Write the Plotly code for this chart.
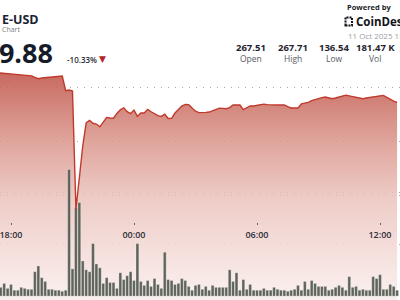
import pandas as pd
import plotly.graph_objects as go

# ---------------- data ----------------
times = pd.date_range("2025-10-10 17:20", periods=118, freq="10min")

price = [
    264.2,
    263.9, 263.6, 263.3, 263.0, 262.7, 262.3, 262.1, 261.8, 261.6, 261.3,
    259.9, 258.7, 259.3, 259.7, 260.1, 260.3, 260.3, 260.7, 261.1, 247.4,
    248.1, 247.2, 136.5, 165.9, 195.8, 217.3, 219.7, 217.0, 216.3, 213.7,
    218.4, 222.5, 222.0, 221.7, 226.2, 229.7, 231.4, 227.8, 226.1, 229.3,
    223.4, 226.6, 226.6, 230.0, 227.8, 225.9, 224.1, 223.4, 225.5, 221.5,
    221.6, 226.6, 229.8, 233.1, 234.6, 234.4, 231.2, 228.3, 227.0, 226.8,
    227.2, 227.5, 228.5, 229.8, 231.1, 230.9, 230.6, 231.7, 234.1, 234.1,
    234.1, 229.7, 231.1, 233.2, 233.2, 233.9, 234.7, 234.9, 234.4, 234.1,
    234.1, 234.1, 234.1, 234.1, 232.5, 231.3, 231.3, 231.3, 235.2, 235.7,
    236.6, 238.2, 239.3, 240.3, 241.0, 241.5, 240.7, 239.9, 240.6, 241.7,
    242.7, 243.3, 242.6, 242.0, 241.2, 240.4, 239.9, 240.6, 241.1, 241.7,
    242.3, 242.9, 243.1, 241.2, 239.3, 237.7, 236.6,
]

volume_k = [
    0.90,
    0.85, 1.23, 0.75, 1.13, 0.57, 0.57, 0.85, 0.75, 0.66, 0.66,
    2.36, 2.92, 1.79, 1.42, 0.66, 0.66, 0.57, 0.57, 0.47, 0.57,
    12.26, 2.64, 8.58, 9.06, 3.40, 2.55, 2.36, 5.09, 3.11, 2.74,
    1.23, 1.79, 1.32, 1.32, 0.75, 2.26, 1.60, 1.98, 2.36, 1.51,
    5.09, 1.42, 1.04, 1.51, 0.94, 1.70, 1.13, 0.75, 4.25, 1.60,
    1.51, 1.13, 1.23, 1.70, 1.51, 0.94, 0.57, 1.04, 1.13, 0.66,
    0.94, 0.57, 1.04, 0.85, 0.85, 0.85, 0.85, 2.55, 1.42, 2.26,
    0.57, 1.60, 0.66, 1.13, 0.57, 0.57, 0.57, 0.75, 0.57, 0.57,
    0.85, 0.66, 0.57, 0.57, 0.47, 0.57, 0.66, 1.04, 0.57, 1.42,
    0.66, 1.51, 1.23, 0.94, 0.94, 0.94, 0.57, 0.66, 0.85, 1.04,
    0.85, 0.57, 1.89, 0.85, 0.94, 0.57, 0.66, 0.57, 0.57, 1.89,
    1.70, 2.08, 0.66, 0.66, 1.13, 0.94, 0.57,
]

tick_times = ["2025-10-10 18:00", "2025-10-11 00:00", "2025-10-11 06:00", "2025-10-11 12:00"]
tick_labels = ["18:00", "00:00", "06:00", "12:00"]
price_grid = [150, 200, 250]
volume_grid = [5, 10]

stat_values = ["267.51", "267.71", "136.54", "181.47 K"]
stat_labels = ["Open", "High", "Low", "Vol"]
stat_x_px = [251, 293, 334, 375]

title_text = "E-USD"
subtitle_text = "Chart"
last_price = "239.88"
change_text = "-10.33%"
date_text = "11 Oct 2025 15:"

# ---------------- figure ----------------
W, H = 400, 300
x_range = [pd.Timestamp("2025-10-10 17:27:48"), pd.Timestamp("2025-10-11 12:58:32")]
price_range = [51.9, 332.2]
vol_range = [-0.377, 28.68]

LINE = "#c0392b"
FONT = "Open Sans"

fig = go.Figure()

# area fill (under bars)
fig.add_trace(go.Scatter(
    x=times, y=price, mode="none", fill="tozeroy",
    fillgradient=dict(
        type="vertical",
        start=price_range[0], stop=264.0,
        colorscale=[
            [0.0, "rgba(249,237,236,0.85)"],
            [0.13, "rgba(246,226,223,0.85)"],
            [0.44, "rgba(235,196,190,0.85)"],
            [0.70, "rgba(218,149,139,0.85)"],
            [1.0, "rgba(190,80,68,0.85)"],
        ],
    ),
    hoverinfo="skip", showlegend=False, yaxis="y",
))

# volume bars
fig.add_trace(go.Bar(
    x=times, y=volume_k, yaxis="y2",
    marker=dict(color="#5f645a", line=dict(color="rgba(255,255,255,0.55)", width=0.5)),
    showlegend=False,
))

# price line on top
fig.add_trace(go.Scatter(
    x=times, y=price, mode="lines", yaxis="y3",
    line=dict(color=LINE, width=1.4),
    showlegend=False,
))

grid_style = dict(gridcolor="rgba(140,140,140,0.75)", griddash="1px,6px", gridwidth=1)

fig.update_layout(
    width=W, height=H,
    margin=dict(l=0, r=0, t=0, b=0),
    paper_bgcolor="white", plot_bgcolor="white",
    bargap=0.18,
    showlegend=False,
    font=dict(family=FONT),
    xaxis=dict(
        range=x_range, anchor="free", position=(H - 222) / H,
        showgrid=False, zeroline=False, showline=False,
        tickvals=tick_times, ticktext=tick_labels,
        ticks="outside", ticklen=2, tickwidth=1, tickcolor="#666",
        tickfont=dict(family=FONT, size=9, color="#2b2f38", weight=600),
        ticklabelstandoff=2, ticklabeloverflow="allow",
        layer="above traces",
    ),
    yaxis=dict(range=price_range, tickvals=price_grid, showticklabels=False,
               zeroline=False, showline=False, **grid_style),
    yaxis2=dict(range=vol_range, overlaying="y", tickvals=volume_grid,
                showticklabels=False, zeroline=False, showline=False, **grid_style),
    yaxis3=dict(range=price_range, overlaying="y", showgrid=False,
                showticklabels=False, zeroline=False, showline=False),
)


def px(x):
    return x / W


def py(y):
    return 1 - y / H


ann = []
ann.append(dict(text=f"<b>{title_text}</b>", x=px(-0.5), y=py(19), xanchor="left", yanchor="middle",
                font=dict(size=12.5, color="#1b2232", family=FONT)))
ann.append(dict(text=subtitle_text, x=px(-0.5), y=py(30), xanchor="left", yanchor="middle",
                font=dict(size=7, color="#7a7f88", family=FONT)))
ann.append(dict(text=f"<b>{last_price}</b>", x=px(55), y=py(52), xanchor="right", yanchor="middle",
                font=dict(size=27, color="#151b28", family=FONT)))
ann.append(dict(text=change_text, x=px(65), y=py(59.5), xanchor="left", yanchor="middle",
                font=dict(size=8, color="#2b2f38", family=FONT, weight=600)))
ann.append(dict(text="▼", x=px(97), y=py(59), xanchor="left", yanchor="middle",
                font=dict(size=9, color="#b3261e", family="DejaVu Sans")))
ann.append(dict(text="<b>Powered by</b>", x=px(345), y=py(7), xanchor="left", yanchor="middle",
                font=dict(size=7.5, color="#1b1f27", family=FONT)))
ann.append(dict(text="<b>CoinDesk</b>", x=px(354), y=py(21.5), xanchor="left", yanchor="middle",
                font=dict(size=11.5, color="#111318", family=FONT)))
ann.append(dict(text=date_text, x=px(346), y=py(35), xanchor="left", yanchor="middle",
                font=dict(size=8, color="#9a9ea6", family=FONT)))
for v, l, xp in zip(stat_values, stat_labels, stat_x_px):
    ann.append(dict(text=f"<b>{v}</b>", x=px(xp), y=py(47.5), xanchor="center", yanchor="middle",
                    font=dict(size=9.5, color="#1f2430", family=FONT)))
    ann.append(dict(text=l, x=px(xp), y=py(58.5), xanchor="center", yanchor="middle",
                    font=dict(size=8.5, color="#555a63", family=FONT)))
for a in ann:
    a.update(xref="paper", yref="paper", showarrow=False)
fig.update_layout(annotations=ann)

# CoinDesk logo mark (dotted square)
fig.add_shape(type="rect", xref="paper", yref="paper",
              x0=px(345.5), x1=px(352), y0=py(25.5), y1=py(17.5),
              line=dict(color="#111318", width=2, dash="2px,1px"), fillcolor="rgba(0,0,0,0)")

fig.write_html("out.html")
